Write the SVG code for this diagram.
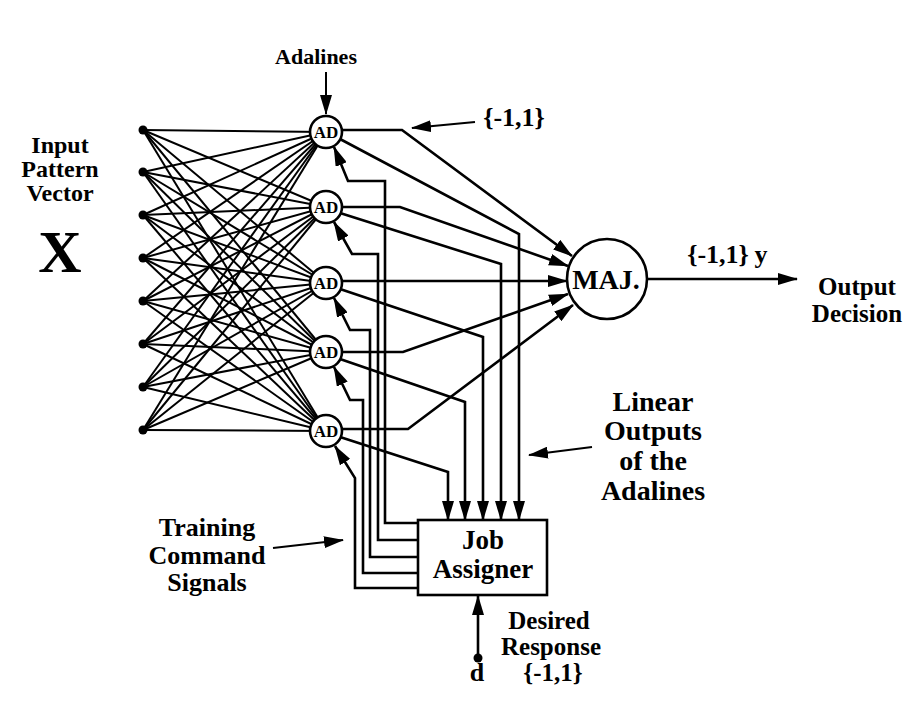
<svg xmlns="http://www.w3.org/2000/svg" width="921" height="722" viewBox="0 0 921 722">
<defs>
<style>
.t{font-family:"Liberation Serif","Times New Roman",serif;font-weight:bold;fill:#000;text-anchor:middle}
.fan line{stroke:#000;stroke-width:2}
.c{fill:none;stroke:#000;stroke-width:2.6;stroke-linejoin:miter}
.a{marker-end:url(#ah)}
.n{fill:#fff;stroke:#000;stroke-width:2.6}
</style>
<marker id="ah" markerUnits="userSpaceOnUse" markerWidth="20" markerHeight="12" refX="19" refY="6" orient="auto" viewBox="0 0 20 12">
<path d="M0,0 L20,6 L0,12 z" fill="#000"/>
</marker>
</defs>
<rect width="921" height="722" fill="#fff"/>

<g id="fan" class="fan">
<line x1="143" y1="130" x2="326" y2="132"/><line x1="143" y1="130" x2="326" y2="207"/><line x1="143" y1="130" x2="326" y2="283"/><line x1="143" y1="130" x2="326" y2="352"/><line x1="143" y1="130" x2="326" y2="431"/>
<line x1="143" y1="172" x2="326" y2="132"/><line x1="143" y1="172" x2="326" y2="207"/><line x1="143" y1="172" x2="326" y2="283"/><line x1="143" y1="172" x2="326" y2="352"/><line x1="143" y1="172" x2="326" y2="431"/>
<line x1="143" y1="215" x2="326" y2="132"/><line x1="143" y1="215" x2="326" y2="207"/><line x1="143" y1="215" x2="326" y2="283"/><line x1="143" y1="215" x2="326" y2="352"/><line x1="143" y1="215" x2="326" y2="431"/>
<line x1="143" y1="258" x2="326" y2="132"/><line x1="143" y1="258" x2="326" y2="207"/><line x1="143" y1="258" x2="326" y2="283"/><line x1="143" y1="258" x2="326" y2="352"/><line x1="143" y1="258" x2="326" y2="431"/>
<line x1="143" y1="301" x2="326" y2="132"/><line x1="143" y1="301" x2="326" y2="207"/><line x1="143" y1="301" x2="326" y2="283"/><line x1="143" y1="301" x2="326" y2="352"/><line x1="143" y1="301" x2="326" y2="431"/>
<line x1="143" y1="344" x2="326" y2="132"/><line x1="143" y1="344" x2="326" y2="207"/><line x1="143" y1="344" x2="326" y2="283"/><line x1="143" y1="344" x2="326" y2="352"/><line x1="143" y1="344" x2="326" y2="431"/>
<line x1="143" y1="387" x2="326" y2="132"/><line x1="143" y1="387" x2="326" y2="207"/><line x1="143" y1="387" x2="326" y2="283"/><line x1="143" y1="387" x2="326" y2="352"/><line x1="143" y1="387" x2="326" y2="431"/>
<line x1="143" y1="430" x2="326" y2="132"/><line x1="143" y1="430" x2="326" y2="207"/><line x1="143" y1="430" x2="326" y2="283"/><line x1="143" y1="430" x2="326" y2="352"/><line x1="143" y1="430" x2="326" y2="431"/>
</g>

<g id="connectors">
<path class="c a" d="M342,130 H402 L572,256"/>
<path class="c a" d="M342,207 H400 L568,266"/>
<path class="c a" d="M342,281 H567"/>
<path class="c a" d="M342,352 H403 L568,294"/>
<path class="c a" d="M342,429 H408 L573,305"/>
<path class="c a" d="M340,139 L519,234 V520"/>
<path class="c a" d="M340,213 L501,264 V520"/>
<path class="c a" d="M340,289 L483,337 V520"/>
<path class="c a" d="M340,359 L465,402 V520"/>
<path class="c a" d="M340,437 L448,472 V520"/>
<path class="c a" d="M418,523 H385 V181 H348 L334,147"/>
<path class="c a" d="M418,540 H378 V254 H352 L334,222"/>
<path class="c a" d="M418,557 H370 V330 H350 L334,298"/>
<path class="c a" d="M418,573 H363 V400 H350 L334,367"/>
<path class="c a" d="M418,588 H355 V478 L335,446"/>
<path class="c a" d="M647,279 H797"/>
<path class="c a" d="M478,658 V596"/>
<circle cx="478" cy="658" r="4.5" fill="#000"/>
<path class="c a" d="M326,72 V114" style="stroke-width:2"/>
<path class="c a" d="M475,122 L412,128" style="stroke-width:2"/>
<path class="c a" d="M592,447 L529,455" style="stroke-width:2"/>
<path class="c a" d="M273,548 L343,540" style="stroke-width:2"/>
</g>

<g id="inputs">
<circle cx="143" cy="130" r="4.5"/><circle cx="143" cy="172" r="4.5"/><circle cx="143" cy="215" r="4.5"/><circle cx="143" cy="258" r="4.5"/>
<circle cx="143" cy="301" r="4.5"/><circle cx="143" cy="344" r="4.5"/><circle cx="143" cy="387" r="4.5"/><circle cx="143" cy="430" r="4.5"/>
</g>

<g id="ad1"><circle class="n" cx="326" cy="132" r="16"/><text class="t" x="326" y="138" font-size="17">AD</text></g>
<g id="ad2"><circle class="n" cx="326" cy="207" r="16"/><text class="t" x="326" y="213" font-size="17">AD</text></g>
<g id="ad3"><circle class="n" cx="326" cy="283" r="16"/><text class="t" x="326" y="289" font-size="17">AD</text></g>
<g id="ad4"><circle class="n" cx="326" cy="352" r="16"/><text class="t" x="326" y="358" font-size="17">AD</text></g>
<g id="ad5"><circle class="n" cx="326" cy="431" r="16"/><text class="t" x="326" y="437" font-size="17">AD</text></g>

<g id="maj"><circle class="n" cx="607" cy="279" r="40"/><text class="t" x="606" y="289" font-size="28">MAJ.</text></g>

<g id="job"><rect class="n" x="418" y="520" width="129" height="75"/><text class="t" x="483" y="549" font-size="27">Job</text><text class="t" x="483" y="578" font-size="27">Assigner</text></g>

<g id="labels">
<text class="t" x="60" y="153" font-size="24">Input</text>
<text class="t" x="60" y="177" font-size="24">Pattern</text>
<text class="t" x="60" y="201" font-size="24">Vector</text>
<text class="t" x="60" y="272" font-size="60">X</text>
<text class="t" x="316" y="64" font-size="22">Adalines</text>
<text class="t" x="514" y="126" font-size="26">{-1,1}</text>
<text class="t" x="718" y="263" font-size="26">{-1,1}</text>
<text class="t" x="761" y="263" font-size="26">y</text>
<text class="t" x="857" y="295" font-size="25">Output</text>
<text class="t" x="857" y="322" font-size="25">Decision</text>
<text class="t" x="653" y="411" font-size="28">Linear</text>
<text class="t" x="653" y="440" font-size="28">Outputs</text>
<text class="t" x="653" y="470" font-size="28">of the</text>
<text class="t" x="653" y="500" font-size="28">Adalines</text>
<text class="t" x="207" y="536" font-size="26">Training</text>
<text class="t" x="207" y="564" font-size="26">Command</text>
<text class="t" x="207" y="591" font-size="26">Signals</text>
<text class="t" x="549" y="629" font-size="25">Desired</text>
<text class="t" x="551" y="655" font-size="25">Response</text>
<text class="t" x="553" y="681" font-size="25">{-1,1}</text>
<text class="t" x="477" y="681" font-size="26">d</text>
</g>
</svg>
